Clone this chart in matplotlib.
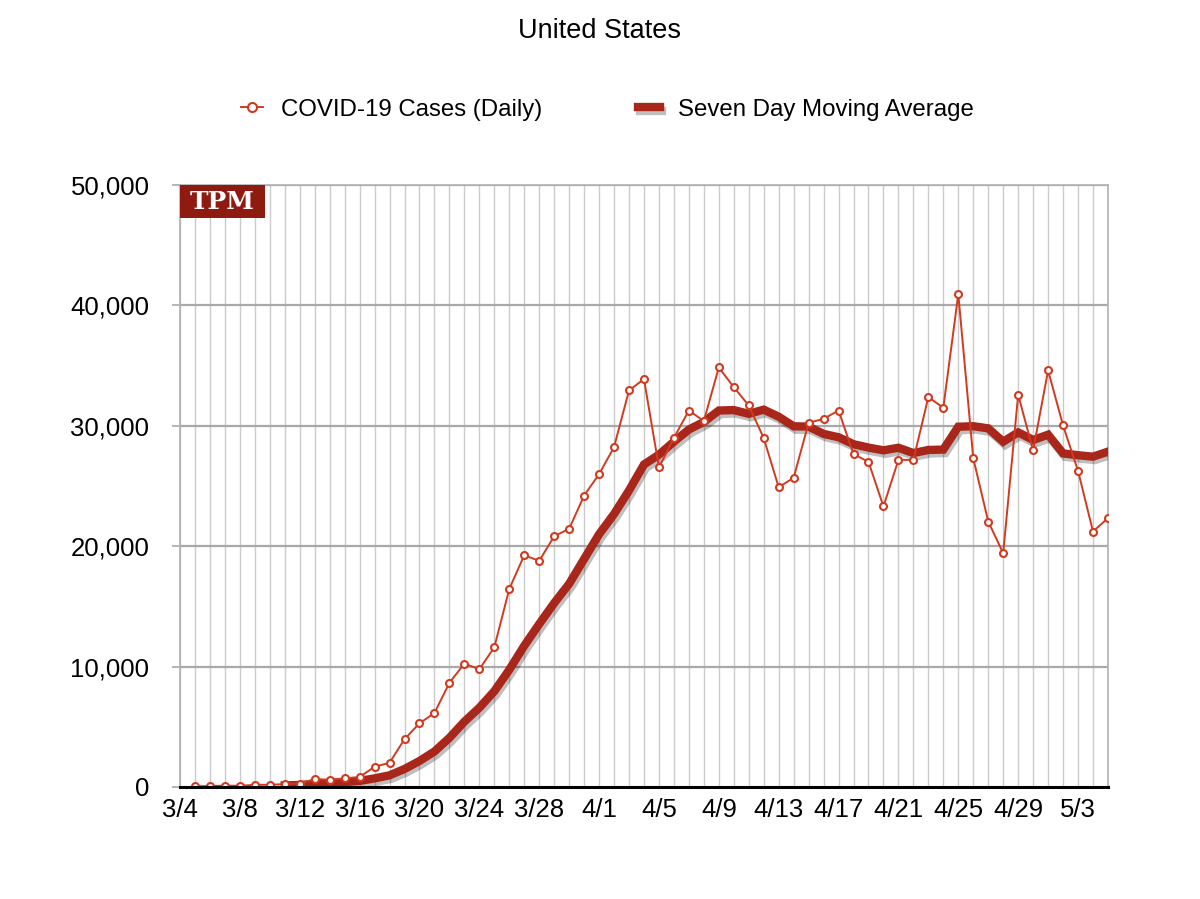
import matplotlib.pyplot as plt
import matplotlib.patheffects as pe
from matplotlib.patches import Rectangle
import pandas as pd

# Data (3/5 .. 5/5)
dates = pd.date_range('2020-03-05', '2020-05-05', freq='D')
daily_cases = [50, 80, 110, 100, 180, 180, 240, 280, 660, 600,
               720, 830, 1680, 2010, 3970, 5290, 6140, 8650, 10250, 9780,
               11600, 16450, 19250, 18780, 20830, 21440, 24210, 25980, 28230, 32940,
               33880, 26540, 29000, 31270, 30400, 34850, 33210, 31690, 28980, 24900,
               25680, 30250, 30580, 31270, 27650, 27010, 23300, 27170, 27170, 32380,
               31500, 40940, 27310, 22050, 19420, 32580, 27950, 34600, 30030, 26260,
               21220, 22330]

# seven day average starts on 3/11
ma_dates = pd.date_range('2020-03-11', '2020-05-05', freq='D')
moving_avg = [134, 167, 250, 320, 409, 501, 716, 969, 1496, 2157,
              2949, 4081, 5427, 6584, 7954, 9737, 11731, 13537, 15277, 16876,
              18937, 20991, 22674, 24630, 26787, 27603, 28683, 29691, 30323, 31269,
              31307, 30994, 31343, 30757, 29959, 29937, 29327, 29050, 28473, 28191,
              27963, 28176, 27736, 27993, 28026, 29924, 29967, 29789, 28681, 29454,
              28821, 29264, 27706, 27556, 27437, 27853]

tick_dates = pd.date_range('2020-03-04', periods=16, freq='4D')
tick_labels = ['3/4', '3/8', '3/12', '3/16', '3/20', '3/24', '3/28', '4/1',
               '4/5', '4/9', '4/13', '4/17', '4/21', '4/25', '4/29', '5/3']
y_ticks = [0, 10000, 20000, 30000, 40000, 50000]
y_labels = ['0', '10,000', '20,000', '30,000', '40,000', '50,000']

plt.rcParams['font.family'] = ['Liberation Sans', 'DejaVu Sans']

fig = plt.figure(figsize=(12, 8.99), dpi=100)
ax = fig.add_axes([0.15, 0.1246, 0.7733, 0.6696])

# daily grid lines
for d in pd.date_range('2020-03-04', '2020-05-05', freq='D'):
    ax.axvline(d, color='#cbcbcb', lw=1.0, zorder=0)
for y in y_ticks[1:]:
    ax.axhline(y, color='#a9a9a9', lw=1.6, zorder=0)

ax.plot(ma_dates, moving_avg, color='#a8261a', lw=6, solid_joinstyle='miter',
        label='Seven Day Moving Average', zorder=3,
        path_effects=[pe.SimpleLineShadow(offset=(1.5, -2.5), alpha=0.25, shadow_color='black'),
                      pe.Normal()])
ax.plot(dates, daily_cases, color='#d23a20', lw=1.4, marker='o', markersize=5,
        markerfacecolor='white', markeredgecolor='#d23a20', markeredgewidth=1.5,
        label='COVID-19 Cases (Daily)', zorder=4)

ax.set_xlim(pd.Timestamp('2020-03-04'), pd.Timestamp('2020-05-05'))
ax.set_ylim(0, 50000)
ax.set_xticks(tick_dates)
ax.set_xticklabels(tick_labels, fontsize=18.5)
ax.set_yticks(y_ticks)
ax.set_yticklabels(y_labels, fontsize=18.5)
ax.tick_params(axis='x', length=0, pad=8)
ax.tick_params(axis='y', length=6, width=1.2, color='#a9a9a9', pad=16)

for side in ['top', 'right', 'left']:
    ax.spines[side].set_color('#b0b0b0')
    ax.spines[side].set_linewidth(1.2)
ax.spines['bottom'].set_color('black')
ax.spines['bottom'].set_linewidth(2.2)
ax.spines['bottom'].set_zorder(5)

# TPM badge
ax.add_patch(Rectangle((0.0, 0.946), 0.092, 0.054, transform=ax.transAxes,
                       facecolor='#8e1a10', edgecolor='none', zorder=6))
ax.text(0.046, 0.972, 'TPM', transform=ax.transAxes, ha='center', va='center',
        fontsize=18, fontweight='bold', family='DejaVu Serif', color='white', zorder=7)

fig.text(0.5, 0.966, 'United States', ha='center', va='center', fontsize=19.5)

handles, labels = ax.get_legend_handles_labels()
fig.legend(handles[::-1], labels[::-1], loc='center', bbox_to_anchor=(0.506, 0.878),
           ncol=2, frameon=False, fontsize=17.3, columnspacing=4.0,
           handlelength=0.9, handletextpad=0.75, markerscale=1.3)

fig.savefig('out.png', dpi=100)
